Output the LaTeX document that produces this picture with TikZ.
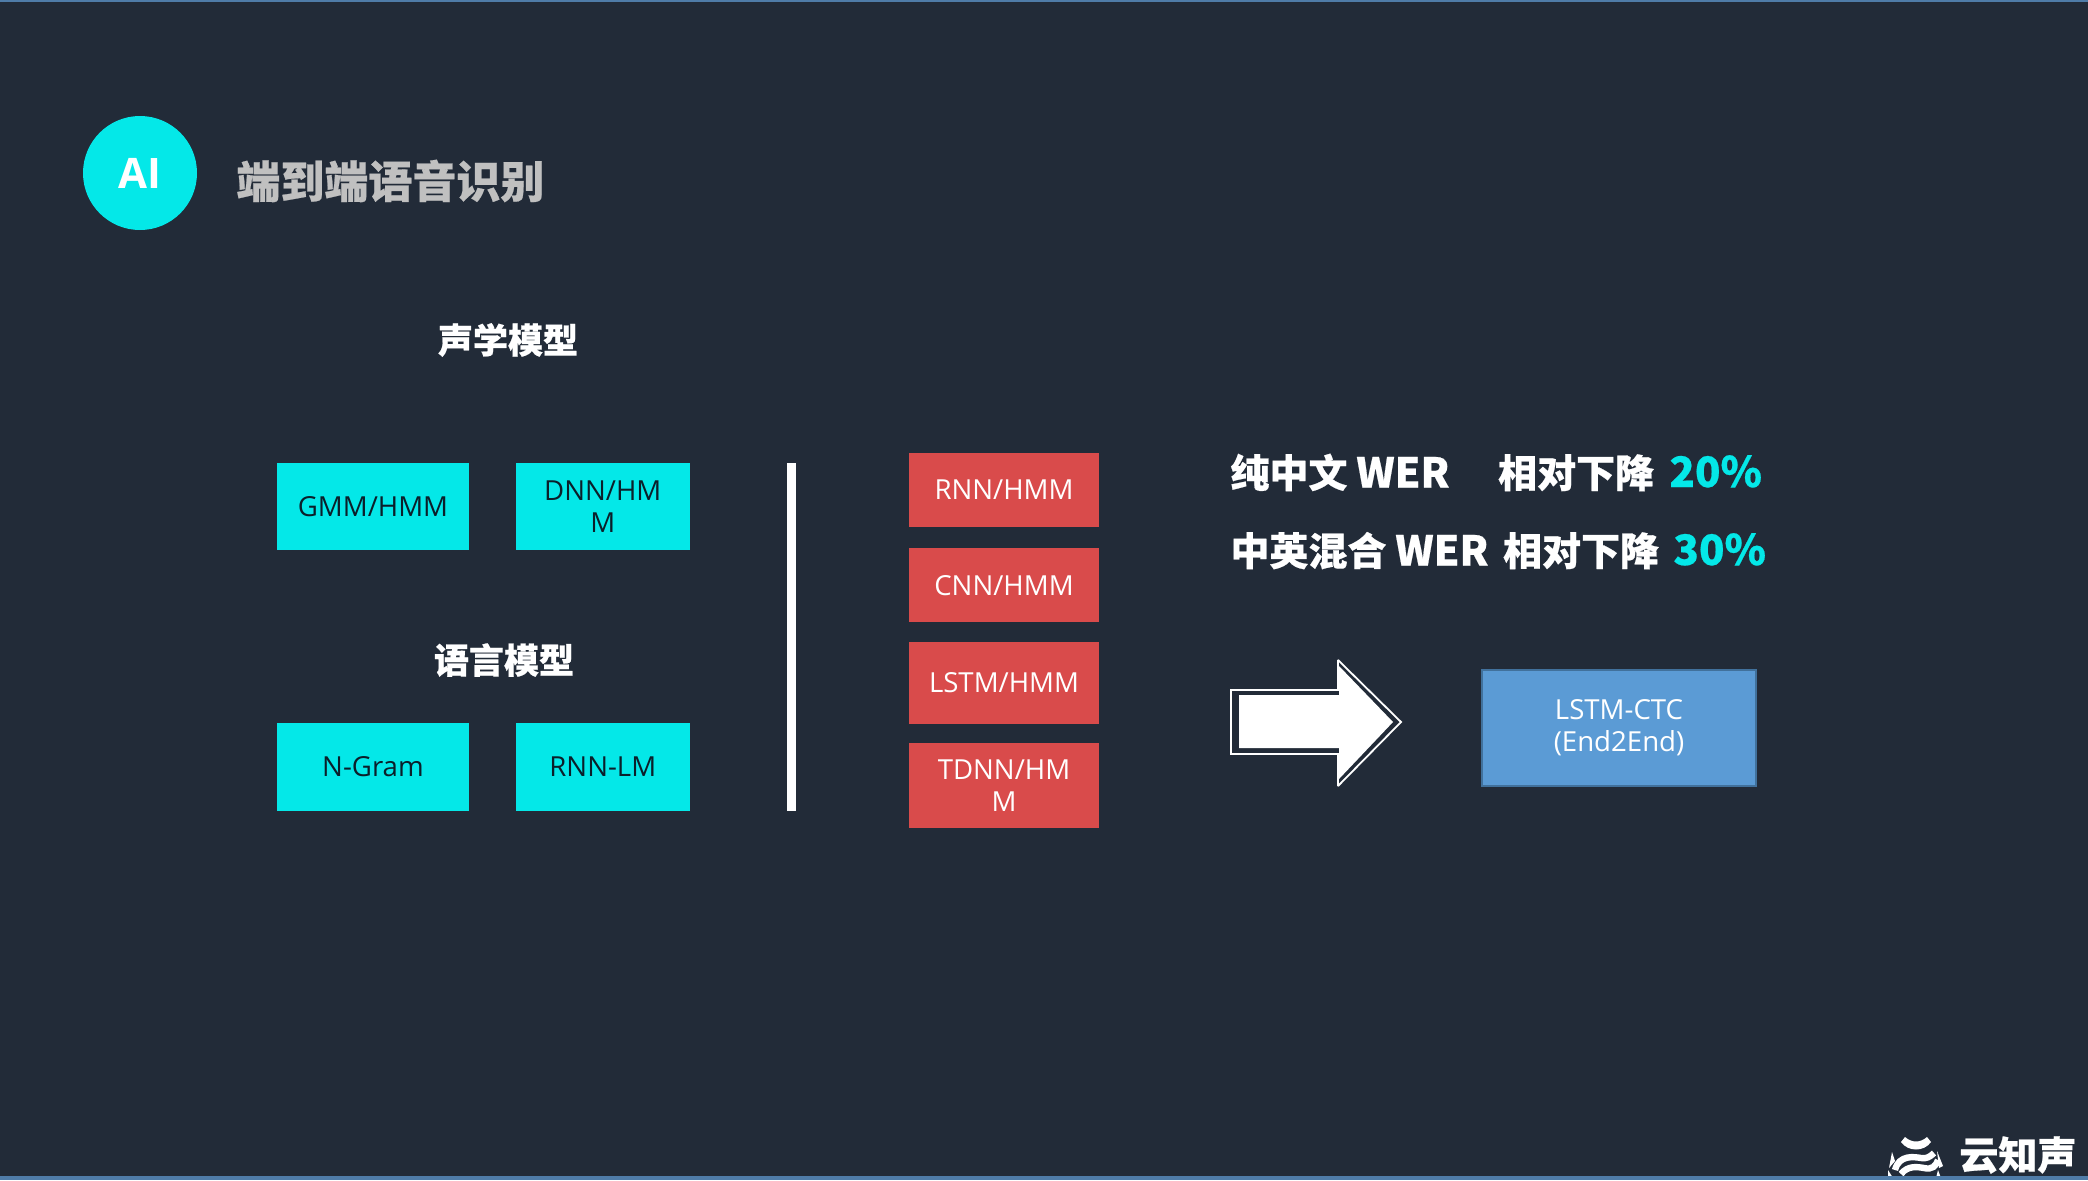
\documentclass[tikz,border=0pt]{standalone}
\usepackage{fontspec}
\usepackage{xcolor}
\setmainfont{Open Sans}
\newfontfamily\cjk[BoldFeatures={FakeBold=0.5}]{Noto Sans CJK SC}
\usetikzlibrary{positioning}
\definecolor{slide}{HTML}{222B38}
\definecolor{aqua}{HTML}{04E8E8}
\definecolor{brick}{HTML}{D94B4B}
\definecolor{steel}{HTML}{5B9BD5}
\definecolor{steeledge}{HTML}{41719C}
\definecolor{edgeline}{HTML}{4F7CA8}
\definecolor{titlegray}{HTML}{C0C0C0}
\definecolor{inkdark}{HTML}{0B1F2A}
\tikzstyle{tealbox} = [rectangle, fill=aqua, text=inkdark, font=\fontsize{13.8}{16}\selectfont, align=center, inner sep=0pt, minimum width=96pt, minimum height=43.5pt]
\tikzstyle{redbox} = [rectangle, fill=brick, text=white, font=\fontsize{13.8}{16}\selectfont, align=center, inner sep=0pt, minimum width=95pt]
\tikzstyle{heading} = [text=white, inner sep=0pt, font=\cjk\bfseries\fontsize{17.5}{20}\selectfont]
\tikzstyle{wer} = [text=white, inner sep=0pt, anchor=base west, font=\cjk\bfseries\fontsize{19.5}{22}\selectfont]
\tikzstyle{percent} = [text=aqua, inner sep=0pt, anchor=base west, font=\cjk\bfseries\fontsize{21}{26}\selectfont]
\newcommand{\werword}{{\fontsize{20.5}{22}\selectfont WER}}

\begin{document}
\begin{tikzpicture}[x=0.5pt, y=-0.5pt]
    \useasboundingbox (0,0) rectangle (2088,1180);
    \fill [slide] (0,0) rectangle (2088,1180);
    \fill [edgeline] (0,0) rectangle (2088,2);

    % Header
    \node (badge) [circle, fill=aqua, text=white, inner sep=0pt, minimum size=57pt, font=\bfseries\fontsize{21}{24}\selectfont] at (140,173) {AI};
    \node (title) [anchor=west, text=titlegray, inner sep=0pt, font=\cjk\bfseries\fontsize{22}{26}\selectfont] at (236,181) {端到端语音识别};

    % Left group
    \node (acoustic) [heading] at (508,340) {声学模型};
    \node (gmm) [tealbox] at (373,506.5) {GMM/HMM};
    \node (dnn) [tealbox, minimum width=87pt, right=23pt of gmm] {DNN/HM\\M};
    \node (language) [heading] at (504,660) {语言模型};
    \node (ngram) [tealbox, minimum height=44pt] at (373,767) {N-Gram};
    \node (rnnlm) [tealbox, minimum height=44pt, minimum width=87pt, right=23pt of ngram] {RNN-LM};
    \node (divider) [rectangle, fill=white, inner sep=0pt, minimum width=4.5pt, minimum height=174pt] at (791.5,637) {};

    % Red column
    \node (rnn) [redbox, minimum height=37pt] at (1004,489.5) {RNN/HMM};
    \node (cnn) [redbox, minimum height=37pt, below=10.5pt of rnn] {CNN/HMM};
    \node (lstm) [redbox, minimum height=41pt, below=9.5pt of cnn] {LSTM/HMM};
    \node (tdnn) [redbox, minimum height=42.5pt, below=9pt of lstm] {TDNN/HM\\M};

    % Results
    \node (line1) [wer] at (1230,487.5) {纯中文 \werword\hspace{24.3pt}相对下降};
    \node (pct1) [percent] at (1669,487) {20\%};
    \node (line2) [wer] at (1230,565.5) {中英混合 \werword\hspace{2.8pt} 相对下降};
    \node (pct2) [percent] at (1673,565) {30\%};

    % Big arrow
    \draw [white, line width=0.9pt, miter limit=2] (1231,690) -- (1338,690) -- (1338,660) -- (1401,722) -- (1338,786) -- (1338,754) -- (1231,754) -- cycle;
    \fill [white] (1239,695) -- (1339,695) -- (1339,666) -- (1393,722) -- (1339,779) -- (1339,748) -- (1239,748) -- cycle;

    \node (ctc) [rectangle, fill=steel, draw=steeledge, line width=1pt, text=white, inner sep=0pt, minimum width=137pt, minimum height=58pt, align=center, font=\fontsize{13.8}{16}\selectfont] at (1619,728) {LSTM-CTC\\(End2End)};

    % Logo
    \fill [white] (1905,1137) .. controls (1912,1143) and (1920,1143) .. (1927,1137) -- (1931,1142) .. controls (1924,1152) and (1908,1152) .. (1901,1142) -- cycle;
    \draw [white, line width=3.2pt] (1895,1170) .. controls (1899,1154) and (1915,1157) .. (1921,1158) .. controls (1926,1159) and (1930,1157) .. (1934,1153);
    \draw [white, line width=3.2pt] (1901,1174) .. controls (1908,1165) and (1918,1167) .. (1924,1168) .. controls (1932,1170) and (1936,1166) .. (1938,1160);
    \fill [white] (1892,1152) -- (1895,1161) -- (1889,1168) -- cycle;
    \fill [white] (1937,1151) -- (1943,1166) -- (1939,1168) -- cycle;
    \fill [white] (1888,1170) -- (1893,1178) -- (1888,1178) -- cycle;
    \fill [white] (1938,1170) -- (1941,1178) -- (1936,1178) -- cycle;
    \node (brand) [anchor=west, text=white, inner sep=0pt, font=\cjk\bfseries\fontsize{19.5}{22}\selectfont] at (1959,1155) {云知声};
    \fill [edgeline] (0,1176) rectangle (2088,1180);
\end{tikzpicture}
\end{document}
